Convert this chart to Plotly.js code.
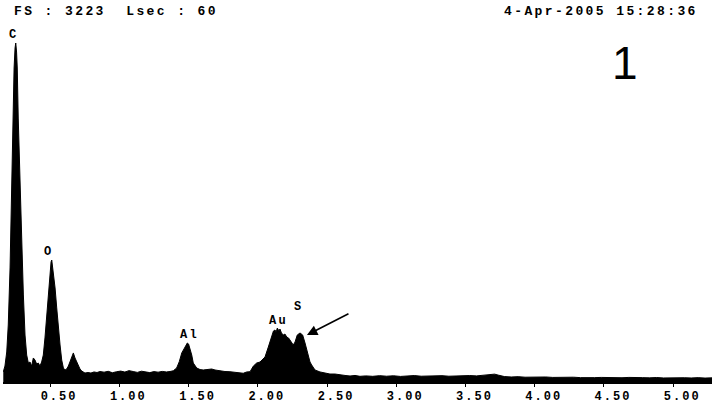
<!DOCTYPE html>
<html><head><meta charset="utf-8">
<script src="https://cdn.plot.ly/plotly-3.0.1.min.js"></script>
<style>
html,body{margin:0;padding:0;background:#fff;}
#chart{width:712px;height:406px;}
.xtick text{letter-spacing:2px;}
.annotation-text{letter-spacing:2.4px;}
</style></head><body><div id="chart"></div>
<script>
// Energy (keV) and counts
const energy = [0.162,0.174,0.187,0.198,0.211,0.223,0.230,0.240,0.247,0.252,0.258,0.263,0.270,0.283,0.295,0.307,0.319,0.331,0.343,0.355,0.367,0.379,0.391,0.403,0.415,0.427,0.439,0.451,0.463,0.476,0.487,0.499,0.507,0.512,0.518,0.523,0.536,0.548,0.559,0.572,0.584,0.596,0.608,0.620,0.632,0.644,0.656,0.668,0.680,0.692,0.704,0.716,0.728,0.752,0.774,0.795,0.817,0.839,0.860,0.89,0.92,0.95,0.98,1.01,1.04,1.07,1.10,1.13,1.16,1.19,1.22,1.25,1.28,1.31,1.34,1.366,1.390,1.414,1.433,1.451,1.462,1.474,1.491,1.500,1.510,1.523,1.534,1.546,1.559,1.583,1.606,1.633,1.667,1.691,1.715,1.74,1.763,1.799,1.82,1.843,1.87,1.895,1.920,1.944,1.968,1.992,2.016,2.038,2.052,2.076,2.100,2.113,2.124,2.133,2.141,2.153,2.160,2.171,2.184,2.196,2.209,2.222,2.232,2.245,2.256,2.269,2.285,2.305,2.324,2.341,2.353,2.365,2.377,2.389,2.413,2.449,2.485,2.521,2.557,2.594,2.630,2.666,2.702,2.738,2.78,2.83,2.88,2.93,2.98,3.03,3.08,3.13,3.18,3.23,3.28,3.33,3.38,3.43,3.48,3.53,3.58,3.63,3.68,3.71,3.74,3.78,3.83,3.88,3.93,3.98,4.03,4.08,4.13,4.18,4.23,4.28,4.33,4.38,4.43,4.48,4.53,4.58,4.63,4.68,4.73,4.78,4.83,4.88,4.93,4.98,5.03,5.08,5.13,5.18,5.23,5.28];
const counts = [92,146,275,522,1044,1804,2326,2875,3058,3104,3021,2875,2417,1804,1282,797,430,247,174,183,146,220,201,165,174,146,183,247,403,613,842,1007,1099,1117,1062,989,861,678,494,339,201,128,110,119,146,183,229,266,220,183,146,119,101,82,87,82,92,87,96,90,98,85,94,100,91,104,96,88,99,92,86,95,90,97,92,96,103,128,186,266,293,323,357,348,311,247,174,146,128,114,110,114,119,110,103,98,96,94,90,87,84,80,92,94,146,174,183,211,229,320,412,467,476,458,494,467,485,449,430,439,412,403,385,357,339,366,430,449,430,357,293,229,183,156,110,92,82,73,73,64,60,55,60,52,56,52,58,53,57,51,55,59,53,56,54,58,53,57,55,59,56,60,66,72,62,50,46,49,44,47,43,46,42,45,41,44,40,43,40,42,39,41,39,42,38,40,38,41,37,39,37,39,37,40,36,38];

const tickVals = [0.5,1.0,1.5,2.0,2.5,3.0,3.5,4.0,4.5,5.0];
const tickText = ['0.50','1.00','1.50','2.00','2.50','3.00','3.50','4.00','4.50','5.00'];
const xRange = [0.16, 5.28];
const fullScale = 3223;

const peakLabels = ['C','O','Al','Au','S'];
const peakLabelE = [0.239,0.494,1.510,2.149,2.297];
const peakLabelCounts = [3177,1187,430,554,687];

const arrowE = 2.355;
const arrowCounts = 430;

const headerLeft = 'FS : 3223  Lsec : 60';
const headerRight = '4-Apr-2005 15:28:36';
const panelNumber = '1';

const nb = s => s.replace(/ /g, '\u00a0');
const monoFont = {family: 'Liberation Mono, Courier New, monospace', color: '#000', weight: 700};

const annotations = [];
peakLabels.forEach((t, i) => {
  annotations.push({x: peakLabelE[i], y: peakLabelCounts[i], xref: 'x', yref: 'y', text: t,
    showarrow: false, xanchor: 'center', yanchor: 'middle', font: Object.assign({size: 12}, monoFont)});
});
annotations.push({x: arrowE, y: arrowCounts, xref: 'x', yref: 'y', text: '', showarrow: true,
  ax: 43, ay: -22, arrowhead: 2, arrowsize: 1.3, arrowwidth: 1.6, arrowcolor: '#000', standoff: 0});
annotations.push({x: 0.0123, y: 1.0526, xref: 'paper', yref: 'paper', text: nb(headerLeft),
  showarrow: false, xanchor: 'left', yanchor: 'middle', font: Object.assign({size: 13}, monoFont)});
annotations.push({x: 0.983, y: 1.0526, xref: 'paper', yref: 'paper', text: nb(headerRight),
  showarrow: false, xanchor: 'right', yanchor: 'middle', font: Object.assign({size: 13}, monoFont)});
annotations.push({x: 0.879, y: 0.905, xref: 'paper', yref: 'paper', text: panelNumber,
  showarrow: false, xanchor: 'center', yanchor: 'middle',
  font: {family: 'Liberation Sans, Arial, sans-serif', size: 46, color: '#000'}});

const trace = {x: energy, y: counts, type: 'scatter', mode: 'lines', fill: 'tozeroy',
  fillcolor: '#000', line: {color: '#000', width: 1}, hoverinfo: 'skip'};

const layout = {
  width: 712, height: 406,
  margin: {l: 3, r: 0, t: 30, b: 24, pad: 0},
  paper_bgcolor: '#fff', plot_bgcolor: '#fff',
  showlegend: false,
  xaxis: {range: xRange, tickvals: tickVals, ticktext: tickText, ticks: 'outside', ticklen: 3,
    tickwidth: 1, tickcolor: '#000', showline: true, linecolor: '#000', linewidth: 2,
    showgrid: false, zeroline: false, ticklabelshift: 9, ticklabelstandoff: -1,
    tickfont: Object.assign({size: 12}, monoFont)},
  yaxis: {range: [0, fullScale], visible: false, showgrid: false, zeroline: false},
  annotations: annotations
};

Plotly.newPlot('chart', [trace], layout, {staticPlot: true, displayModeBar: false});
</script></body></html>
